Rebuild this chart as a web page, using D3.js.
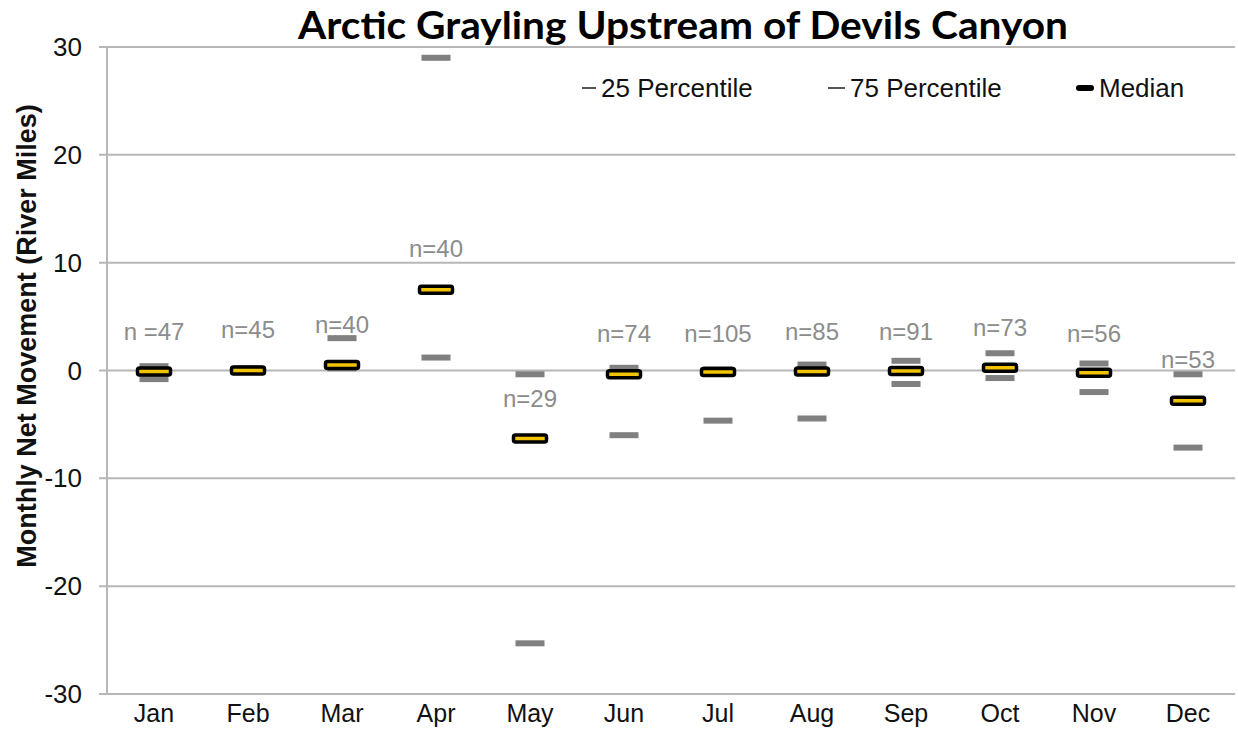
<!DOCTYPE html>
<html>
<head>
<meta charset="utf-8">
<script src="https://cdn.jsdelivr.net/npm/d3@7"></script>
<style>
  html, body { margin: 0; padding: 0; background: #fff; }
  svg { display: block; }
  text { font-family: "Liberation Sans", Arial, sans-serif; }
  text.title { font-family: Lato, "Open Sans", sans-serif; }
</style>
</head>
<body>
<svg id="chart" width="1238" height="732"></svg>
<script>
// Monthly net movement of Arctic grayling (river miles)
const months = ["Jan","Feb","Mar","Apr","May","Jun","Jul","Aug","Sep","Oct","Nov","Dec"];
const median = [-0.1, 0.0, 0.5, 7.5, -6.3, -0.35, -0.15, -0.1, -0.05, 0.25, -0.2, -2.8];
const p25    = [-0.8, -0.1, 0.2, 1.2, -25.3, -6.0, -4.65, -4.45, -1.25, -0.7, -2.0, -7.15];
const p75    = [0.4, 0.2, 3.0, 29.0, -0.35, 0.25, 0.1, 0.55, 0.9, 1.6, 0.65, -0.35];
const sampleN = ["n =47","n=45","n=40","n=40","n=29","n=74","n=105","n=85","n=91","n=73","n=56","n=53"];
// where each sample-size label sits, in river miles
const nLabelAt = [3.65, 3.75, 4.3, 11.3, -2.65, 3.45, 3.45, 3.6, 3.65, 4.0, 3.4, 1.0];
const yTicks = [-30, -20, -10, 0, 10, 20, 30];

const svg = d3.select("#chart");
const plot = { left: 107, right: 1235, top: 47, bottom: 694 };

const x = d3.scalePoint().domain(months).range([plot.left, plot.right]).padding(0.5);
const y = d3.scaleLinear().domain([-30, 30]).range([plot.bottom, plot.top]);

const gridColor = "#b7b7b7";

// horizontal gridlines with short ticks left of the axis
svg.append("g")
  .selectAll("line")
  .data(yTicks)
  .join("line")
  .attr("x1", plot.left - 8).attr("x2", plot.right)
  .attr("y1", d => y(d)).attr("y2", d => y(d))
  .attr("stroke", gridColor).attr("stroke-width", 2);

// vertical axis line
svg.append("line")
  .attr("x1", plot.left).attr("x2", plot.left)
  .attr("y1", y(30)).attr("y2", y(-30))
  .attr("stroke", gridColor).attr("stroke-width", 2);

// y tick labels
svg.append("g")
  .selectAll("text")
  .data(yTicks)
  .join("text")
  .attr("x", plot.left - 25)
  .attr("y", d => y(d))
  .attr("dy", "0.35em")
  .attr("text-anchor", "end")
  .attr("font-size", 26)
  .attr("fill", "#111")
  .text(d => d);

// month labels
svg.append("g")
  .selectAll("text")
  .data(months)
  .join("text")
  .attr("x", d => x(d))
  .attr("y", plot.bottom + 28)
  .attr("text-anchor", "middle")
  .attr("font-size", 25)
  .attr("fill", "#111")
  .text(d => d);

// y axis title
svg.append("text")
  .attr("transform", "translate(36,336) rotate(-90)")
  .attr("text-anchor", "middle")
  .attr("font-size", 27)
  .attr("font-weight", "bold")
  .attr("fill", "#111")
  .text("Monthly Net Movement (River Miles)");

// chart title
svg.append("text")
  .attr("class", "title")
  .attr("x", 683)
  .attr("y", 39)
  .attr("text-anchor", "middle")
  .attr("font-weight", "bold")
  .attr("font-size", 38)
  .attr("textLength", 770)
  .attr("lengthAdjust", "spacingAndGlyphs")
  .attr("fill", "#000")
  .text("Arctic Grayling Upstream of Devils Canyon");

// percentile markers
const pctW = 29, pctH = 6, pctColor = "#808080";
const drawPct = (vals) => svg.append("g")
  .selectAll("rect")
  .data(months.map((m, i) => ({ m, v: vals[i] })))
  .join("rect")
  .attr("x", d => x(d.m) - pctW / 2)
  .attr("y", d => y(d.v) - pctH / 2)
  .attr("width", pctW)
  .attr("height", pctH)
  .attr("fill", pctColor);
drawPct(p25);
drawPct(p75);

// median markers
const medW = 33, medH = 7;
svg.append("g")
  .selectAll("rect")
  .data(months.map((m, i) => ({ m, v: median[i] })))
  .join("rect")
  .attr("x", d => x(d.m) - medW / 2)
  .attr("y", d => y(d.v) - medH / 2)
  .attr("width", medW)
  .attr("height", medH)
  .attr("rx", 2)
  .attr("fill", "#f2c300")
  .attr("stroke", "#000")
  .attr("stroke-width", 3.5);

// sample size labels
svg.append("g")
  .selectAll("text")
  .data(months.map((m, i) => ({ m, t: sampleN[i], v: nLabelAt[i] })))
  .join("text")
  .attr("x", d => x(d.m))
  .attr("y", d => y(d.v))
  .attr("dy", "0.35em")
  .attr("text-anchor", "middle")
  .attr("font-size", 24)
  .attr("fill", "#8c8c8c")
  .text(d => d.t);

// legend
const legend = svg.append("g").attr("font-size", 26).attr("fill", "#111");
const legendItems = [
  { label: "25 Percentile", x: 582, w: 14, h: 2, color: "#555", rx: 0 },
  { label: "75 Percentile", x: 828, w: 17, h: 2, color: "#555", rx: 0 },
  { label: "Median", x: 1076, w: 18, h: 6, color: "#000", rx: 3 }
];
legendItems.forEach(it => {
  legend.append("rect")
    .attr("x", it.x).attr("y", 88 - it.h / 2)
    .attr("width", it.w).attr("height", it.h)
    .attr("rx", it.rx)
    .attr("fill", it.color);
  legend.append("text")
    .attr("x", it.x + it.w + 5)
    .attr("y", 97)
    .text(it.label);
});
</script>
</body>
</html>
